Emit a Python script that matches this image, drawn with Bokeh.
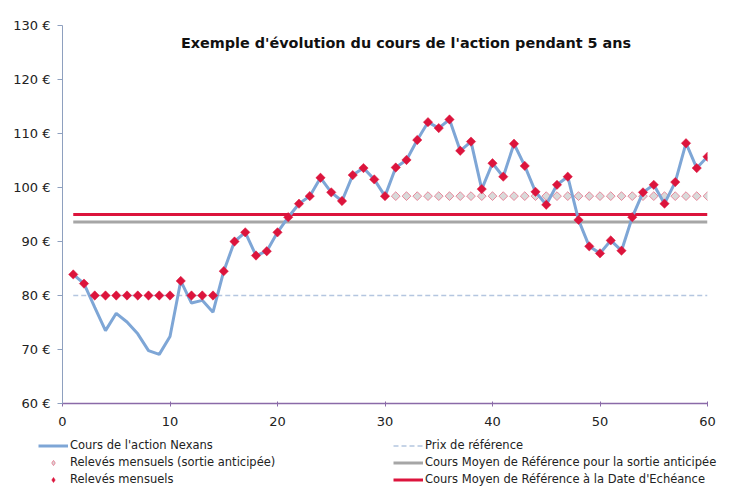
import numpy as np
from bokeh.plotting import figure
from bokeh.layouts import column, row
from bokeh.models import Range1d, Legend, LegendItem, Label, FixedTicker
from bokeh.embed import file_html
from bokeh.resources import INLINE

# ---------------- data ----------------
months = list(range(1, 61))
cours = [83.9, 82.2, 77.8, 73.5, 76.7, 75.1, 72.9, 69.8, 69.1, 72.4,
         82.7, 78.6, 79.1, 76.9, 84.5, 90.0, 91.7, 87.4, 88.2, 91.7,
         94.5, 97.0, 98.4, 101.8, 99.1, 97.5, 102.3, 103.6, 101.5, 98.4,
         103.7, 105.1, 108.8, 112.1, 111.0, 112.6, 106.8, 108.5, 99.7, 104.5,
         102.0, 108.1, 104.0, 99.2, 96.8, 100.5, 102.0, 94.0, 89.1, 87.8,
         90.2, 88.3, 94.5, 99.1, 100.5, 97.0, 101.0, 108.2, 103.6, 105.7]
releves = [83.9, 82.2, 80.0, 80.0, 80.0, 80.0, 80.0, 80.0, 80.0, 80.0,
           82.7, 80.0, 80.0, 80.0, 84.5, 90.0, 91.7, 87.4, 88.2, 91.7,
           94.5, 97.0, 98.4, 101.8, 99.1, 97.5, 102.3, 103.6, 101.5, 98.4,
           103.7, 105.1, 108.8, 112.1, 111.0, 112.6, 106.8, 108.5, 99.7, 104.5,
           102.0, 108.1, 104.0, 99.2, 96.8, 100.5, 102.0, 94.0, 89.1, 87.8,
           90.2, 88.3, 94.5, 99.1, 100.5, 97.0, 101.0, 108.2, 103.6, 105.7]
months_sortie = list(range(31, 61))
releves_sortie = [98.4, 98.4, 98.4, 98.4, 98.4, 98.4, 98.4, 98.4, 98.4, 98.4,
                  98.4, 98.4, 98.4, 98.4, 98.4, 98.4, 98.4, 98.4, 98.4, 98.4,
                  98.4, 98.4, 98.4, 98.4, 98.4, 98.4, 98.4, 98.4, 98.4, 98.4]
prix_reference = 80.0
cmr_sortie = 93.6
cmr_echeance = 95.0

y_ticks = [60, 70, 80, 90, 100, 110, 120, 130]
y_tick_labels = ["60 €", "70 €", "80 €", "90 €", "100 €", "110 €", "120 €", "130 €"]
x_ticks = [0, 10, 20, 30, 40, 50, 60]

title_text = "Exemple d'évolution  du cours de l'action pendant 5 ans"
legend_labels = ["Cours de l'action Nexans",
                 "Relevés mensuels (sortie anticipée)",
                 "Relevés mensuels",
                 "Prix de référence",
                 "Cours Moyen de Référence pour la sortie anticipée",
                 "Cours Moyen de Référence à la Date d'Echéance"]

# ---------------- styles ----------------
BLUE = "#7ea6d6"
CRIMSON = "#dc143c"
GRAY = "#a6a6a6"
DASH = "#b4c6e0"
FONT = "DejaVu Sans"

sortie_style = dict(marker="square", angle=np.pi / 4, size=6.2,
                    fill_color="#d9d9d9", line_color="#e8899c", line_width=1)
prix_style = dict(line_color=DASH, line_width=1.3, line_dash="5 3")
gray_style = dict(line_color=GRAY, line_width=3)
red_style = dict(line_color=CRIMSON, line_width=3)
cours_style = dict(line_color=BLUE, line_width=3)
rel_style = dict(marker="square", angle=np.pi / 4, size=6.6,
                 fill_color=CRIMSON, line_color=CRIMSON, line_width=0.5)

x_ends = [months[0], months[-1]]


def draw_series(fig, legend_markers=False):
    rs = {}
    s_style = dict(sortie_style)
    r_style = dict(rel_style)
    if legend_markers:
        # the legend does not rotate markers: use diamond shapes there
        s_style.update(marker="diamond", angle=0, size=9)
        r_style.update(marker="diamond", angle=0, size=10)
    rs["sortie"] = fig.scatter(months_sortie, releves_sortie, **s_style)
    rs["prix"] = fig.line(x_ends, [prix_reference, prix_reference], **prix_style)
    rs["gray"] = fig.line(x_ends, [cmr_sortie, cmr_sortie], **gray_style)
    rs["red"] = fig.line(x_ends, [cmr_echeance, cmr_echeance], **red_style)
    rs["cours"] = fig.line(months, cours, **cours_style)
    rs["rel"] = fig.scatter(months, releves, **r_style)
    return rs


p = figure(width=733, height=428, frame_width=645, frame_height=378,
           x_range=Range1d(0, 60), y_range=Range1d(60, 130),
           output_backend="svg", toolbar_location=None,
           min_border_left=62, min_border_top=25, min_border_right=26,
           min_border_bottom=25)
p.outline_line_color = None
p.xgrid.visible = False
p.ygrid.visible = False
p.background_fill_color = "white"
p.border_fill_color = "white"
draw_series(p)

# axes
p.yaxis.ticker = FixedTicker(ticks=y_ticks)
p.yaxis.major_label_overrides = {t: l for t, l in zip(y_ticks, y_tick_labels)}
p.xaxis.ticker = FixedTicker(ticks=x_ticks)
for ax in (p.xaxis, p.yaxis):
    ax.minor_tick_line_color = None
    ax.major_label_text_font = FONT
    ax.major_label_text_font_size = "13px"
    ax.major_label_text_color = "#222222"
p.yaxis.axis_line_color = "#8ea0bf"
p.yaxis.major_tick_line_color = "#8ea0bf"
p.yaxis.major_tick_out = 5
p.yaxis.major_tick_in = 0
p.yaxis.major_label_standoff = 7
p.xaxis.axis_line_color = "#8a6aa8"
p.xaxis.axis_line_width = 1.5
p.xaxis.major_tick_line_color = "#8a6aa8"
p.xaxis.major_tick_out = 3
p.xaxis.major_tick_in = 2
p.xaxis.major_label_standoff = 10

# title inside the plot
p.add_layout(Label(x=346, y=361, x_units="screen", y_units="screen", text=title_text,
                   text_font=FONT, text_font_style="bold", text_font_size="14.4px",
                   text_align="center", text_baseline="middle", text_color="#111111"))

# ---------------- legend strip (series kept out of its view range) ----------------
pl = figure(width=733, height=69, x_range=Range1d(1000, 1001), y_range=Range1d(0, 1),
            output_backend="svg", toolbar_location=None,
            min_border_left=0, min_border_right=0, min_border_top=0, min_border_bottom=0)
pl.axis.visible = False
pl.xgrid.visible = False
pl.ygrid.visible = False
pl.outline_line_color = None
lr = draw_series(pl, legend_markers=True)

legend = Legend(items=[LegendItem(label=legend_labels[0], renderers=[lr["cours"]]),
                       LegendItem(label=legend_labels[1], renderers=[lr["sortie"]]),
                       LegendItem(label=legend_labels[2], renderers=[lr["rel"]]),
                       LegendItem(label=legend_labels[3], renderers=[lr["prix"]]),
                       LegendItem(label=legend_labels[4], renderers=[lr["gray"]]),
                       LegendItem(label=legend_labels[5], renderers=[lr["red"]])],
                location=(38, 11), orientation="vertical", ncols=2,
                glyph_width=30, glyph_height=13, label_height=13, label_standoff=2,
                label_width=320, spacing=3, padding=0, margin=0,
                label_text_font=FONT, label_text_font_size="11.5px",
                label_text_color="#222222", border_line_color=None,
                background_fill_alpha=0)
pl.add_layout(legend, "center")

layout = column(p, row(pl), spacing=0)
open("out.html", "w").write(file_html(layout, INLINE))
